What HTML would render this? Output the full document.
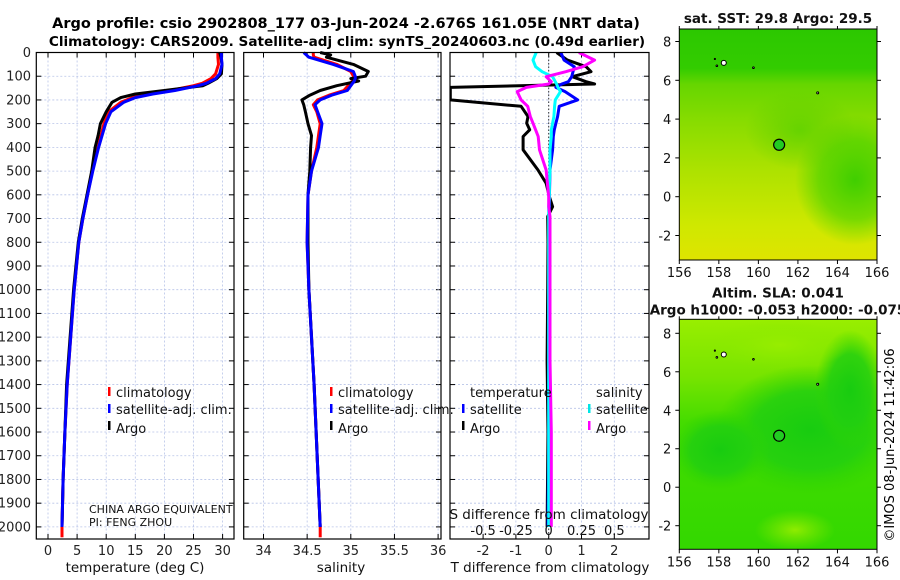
<!DOCTYPE html>
<html><head><meta charset="utf-8">
<style>
html,body{margin:0;padding:0;background:#fff;}
svg{display:block;font-family:"DejaVu Sans","Liberation Sans",sans-serif;}
</style></head>
<body>
<svg id="fig" width="900" height="580" viewBox="0 0 900 580" xmlns="http://www.w3.org/2000/svg">
<text x="346" y="28" font-size="14.5" font-weight="bold" text-anchor="middle">Argo profile: csio 2902808_177 03-Jun-2024 -2.676S 161.05E (NRT data)</text>
<text x="347" y="46" font-size="13.6" font-weight="bold" text-anchor="middle">Climatology: CARS2009. Satellite-adj clim: synTS_20240603.nc (0.49d earlier)</text>
<g id="panels"></g>
<g id="maps"></g>
<text transform="translate(894,445) rotate(-90)" font-size="13" text-anchor="middle">©IMOS 08-Jun-2024 11:42:06</text>
</svg>
<script>
// ---------- data ----------
const tDepth = [0,20,50,90,110,130,140,160,175,190,210,250,300,350,400,450,500,600,700,800,900,1000,1200,1400,1600,1800,2000];
const tArgo  = [29.5,29.7,29.9,29.8,29.0,27.5,26.6,20,15,12.5,11,10,9,8.6,8.1,7.8,7.5,6.7,5.9,5.2,4.8,4.4,3.8,3.2,2.9,2.6,2.4];
const tClim  = [29.2,29.2,29.3,28.8,28.0,26.5,25,21,17,14.5,12.5,10.4,9.6,9.1,8.6,8.1,7.6,6.8,6.0,5.3,4.9,4.5,3.9,3.3,2.9,2.6,2.4];
const tSat   = [29.8,29.8,29.9,29.5,28.8,27.2,25.8,21.8,18,15,13,10.8,9.9,9.3,8.7,8.2,7.7,6.8,6.0,5.3,4.9,4.5,3.9,3.3,2.9,2.6,2.4];
const sDepth = [0,10,20,50,80,100,110,120,140,160,180,200,220,250,300,350,400,500,600,800,1000,1400,2000];
const sArgo  = [34.65,34.77,34.72,35.03,35.2,35.17,35.0,35.09,34.84,34.65,34.53,34.44,34.46,34.48,34.51,34.55,34.54,34.53,34.51,34.51,34.52,34.58,34.65];
const sClim  = [34.57,34.57,34.58,34.84,35.0,35.03,35.03,35.02,34.97,34.92,34.75,34.62,34.57,34.61,34.65,34.63,34.61,34.55,34.51,34.5,34.52,34.58,34.65];
const sSat   = [34.46,34.49,34.52,34.8,35.03,35.05,35.05,35.04,35.0,34.96,34.78,34.65,34.59,34.62,34.67,34.65,34.63,34.55,34.51,34.5,34.52,34.58,34.65];
const dDepth = [0,32,60,81,102,123,133,147,165,200,227,270,298,326,354,410,495,551,608,650,692,800,1000,1300,1600,2000];
const dTArgo = [0.24,0.57,1.14,1.29,0.72,1.14,1.4,-3,-3,-3,-0.84,-0.63,-0.67,-0.58,-0.78,-0.78,-0.33,-0.08,0.02,0.12,-0.03,-0.02,-0.03,-0.05,-0.02,-0.05];
const dTSat  = [0.37,0.47,0.78,0.74,0.7,0.6,0.4,0.22,0.5,0.88,0.32,0.27,0.22,0.17,0.14,0.12,0.04,0.03,0.02,0.02,0.01,0.01,0.0,0.0,0.0,-0.02];
const dSSat  = [-0.095,-0.12,-0.1,-0.05,0.03,0.05,0.06,0.07,0.09,0.05,0.045,0.04,0.03,0.02,0.02,0.01,0.01,0.005,0.005,0.0,0.0,0.0,0.0,0.0,0.0,0.0];
const dSArgo = [0.23,0.35,0.26,0.13,-0.02,0.02,0.0,-0.17,-0.24,-0.21,-0.16,-0.14,-0.12,-0.1,-0.08,-0.07,-0.02,-0.01,0.0,0.0,0.01,0.01,0.01,0.01,0.02,0.02];
const depthTicks = [0,100,200,300,400,500,600,700,800,900,1000,1100,1200,1300,1400,1500,1600,1700,1800,1900,2000];
const tTicks = [0,5,10,15,20,25,30];
const sTicks = [34,34.5,35,35.5,36];
const dTTicks = [-2,-1,0,1,2];
const dSTicks = [-0.5,-0.25,0,0.25,0.5];

// ---------- helpers ----------
const NS="http://www.w3.org/2000/svg";
function mk(tag,attrs,parent){const e=document.createElementNS(NS,tag);for(const k in attrs)e.setAttribute(k,attrs[k]);parent.appendChild(e);return e;}
const top0=52.5, bot=539;
const yD = d => top0 + d*0.2372;
const panelsG=document.getElementById('panels');

function panel(name,x0,x1,xmin,xmax){
  const g=mk('g',{},panelsG);
  
  
  const xs=v=>x0+(v-xmin)/(xmax-xmin)*(x1-x0);
  return {g,xs,x0,x1};
}
function gridAndAxes(p,xt,xlabels,showY){
  const g=p.g;
  depthTicks.forEach(d=>{const y=yD(d);
    const l=mk('line',{x1:p.x0,x2:p.x1,y1:y,y2:y,stroke:'#b8c4e8','stroke-width':0.8,'stroke-dasharray':'2,2'},g);
    
    mk('line',{x1:p.x0,x2:p.x0+5,y1:y,y2:y,stroke:'#000'},g);
    mk('line',{x1:p.x1-5,x2:p.x1,y1:y,y2:y,stroke:'#000'},g);
    if(showY){const t=mk('text',{x:31,y:y+4.5,'font-size':13,'text-anchor':'end',fill:'#222'},g);t.textContent=d;
      }
  });
  xt.forEach((v,i)=>{const x=p.xs(v);
    const l=mk('line',{x1:x,x2:x,y1:top0,y2:bot,stroke:'#b8c4e8','stroke-width':0.8,'stroke-dasharray':'2,2'},g);
    
    mk('line',{x1:x,x2:x,y1:bot-5,y2:bot,stroke:'#000'},g);
    mk('line',{x1:x,x2:x,y1:top0,y2:top0+5,stroke:'#000'},g);
    const t=mk('text',{x:x,y:555,'font-size':13,'text-anchor':'middle',fill:'#222'},g);t.textContent=xlabels?xlabels[i]:v;
    
  });
}
function box(p){const r=mk('rect',{x:p.x0,y:top0,width:p.x1-p.x0,height:bot-top0,fill:'none',stroke:'#000','stroke-width':1.2},p.g);
  }
function line(p,xsF,vals,depths,color,w,name,clipId){
  const pts=vals.map((v,i)=>xsF(v).toFixed(1)+','+yD(depths[i]).toFixed(1)).join(' ');
  const pl=mk('polyline',{points:pts,fill:'none',stroke:color,'stroke-width':w,'stroke-linejoin':'round'},p.g);
  if(clipId)pl.setAttribute('clip-path','url(#'+clipId+')');
  
  return pl;
}
function txt(parent,x,y,s,size,name,anchor){const t=mk('text',{x:x,y:y,'font-size':size,'text-anchor':anchor||'start',fill:'#111'},parent);t.textContent=s;
  return t;}
function legendMark(parent,x,y,color,name){const r=mk('rect',{x:x,y:y-10,width:2.5,height:9,fill:color},parent);
  }

// ---------- panel 1: temperature ----------
const p1=panel('temperature-panel',36.3,234,-2,32);
p1.xs=v=>48+v*5.82;
gridAndAxes(p1,tTicks,null,true);
line(p1,p1.xs,[tClim[tClim.length-1],tClim[tClim.length-1]],[2000,2044],'#ff0000',3,'climatology-deep-segment');
line(p1,p1.xs,tClim,tDepth,'#ff0000',3,'temperature-climatology-line');
line(p1,p1.xs,tArgo,tDepth,'#000',3,'temperature-argo-line');
line(p1,p1.xs,tSat,tDepth,'#0000ff',3,'temperature-satellite-line');
box(p1);
txt(p1.g,135,572,'temperature (deg C)',13.5,'temperature-axis-title','middle');
legendMark(p1.g,108,397,'#ff0000','legend-climatology-marker');
txt(p1.g,116,397,'climatology',13,'legend-climatology');
legendMark(p1.g,108,414,'#0000ff','legend-satellite-marker');
txt(p1.g,116,414,'satellite-adj. clim.',13,'legend-satellite');
legendMark(p1.g,108,431,'#000','legend-argo-marker');
txt(p1.g,116,433,'Argo',13,'legend-argo');
txt(p1.g,89,513,'CHINA ARGO EQUIVALENT',11,'program-label');
txt(p1.g,89,526,'PI: FENG ZHOU',11,'pi-label');

// ---------- panel 2: salinity ----------
const p2=panel('salinity-panel',243.7,441,33.77,36.04);
p2.xs=v=>263.5+(v-34)*87.3;
gridAndAxes(p2,sTicks,null,false);
line(p2,p2.xs,[sClim[sClim.length-1],sClim[sClim.length-1]],[2000,2044],'#ff0000',3,'salinity-climatology-deep-segment');
line(p2,p2.xs,sClim,sDepth,'#ff0000',3,'salinity-climatology-line');
line(p2,p2.xs,sArgo,sDepth,'#000',3,'salinity-argo-line');
line(p2,p2.xs,sSat,sDepth,'#0000ff',3,'salinity-satellite-line');
box(p2);
txt(p2.g,341,572,'salinity',13.5,'salinity-axis-title','middle');
legendMark(p2.g,330,397,'#ff0000','legend-s-climatology-marker');
txt(p2.g,338,397,'climatology',13,'legend-s-climatology');
legendMark(p2.g,330,414,'#0000ff','legend-s-satellite-marker');
txt(p2.g,338,414,'satellite-adj. clim.',13,'legend-s-satellite');
legendMark(p2.g,330,431,'#000','legend-s-argo-marker');
txt(p2.g,338,433,'Argo',13,'legend-s-argo');

// ---------- panel 3: differences ----------
const p3=panel('difference-panel',450,649,-3,3);
const xT=v=>548.7+v*32.8;
const xS=v=>548.7+v*131.2;
p3.xs=xT;
gridAndAxes(p3,dTTicks,null,false);
const defs=mk('defs',{},document.getElementById('fig'));
const cp=mk('clipPath',{id:'clip3'},defs);
mk('rect',{x:450,y:top0,width:199,height:bot-top0},cp);
const zl=mk('line',{x1:548.7,x2:548.7,y1:top0,y2:bot,stroke:'#333','stroke-dasharray':'1.5,2','stroke-width':1},p3.g);

line(p3,xT,dTArgo,dDepth,'#000',3,'t-diff-argo-line','clip3');
line(p3,xT,dTSat,dDepth,'#0000ff',3,'t-diff-satellite-line','clip3');
line(p3,xS,dSSat,dDepth,'#00ffff',3,'s-diff-satellite-line','clip3');
line(p3,xS,dSArgo,dDepth,'#ff00ff',3,'s-diff-argo-line','clip3');
box(p3);
txt(p3.g,550,572,'T difference from climatology',13.5,'t-diff-axis-title','middle');
txt(p3.g,549,519,'S difference from climatology',13.5,'s-diff-axis-title','middle');
dSTicks.forEach(v=>{txt(p3.g,xS(v),535,String(v),13,'s-diff-tick-label','middle');});
txt(p3.g,470,397,'temperature',13,'legend-temperature-header');
legendMark(p3.g,462,414,'#0000ff','legend-t-satellite-marker');
txt(p3.g,470,414,'satellite',13,'legend-t-satellite');
legendMark(p3.g,462,431,'#000','legend-t-argo-marker');
txt(p3.g,470,433,'Argo',13,'legend-t-argo');
txt(p3.g,596,397,'salinity',13,'legend-salinity-header');
legendMark(p3.g,588,414,'#00e5e5','legend-s-satellite-marker');
txt(p3.g,596,414,'satellite',13,'legend-s-sat');
legendMark(p3.g,588,431,'#ff00ff','legend-s-argo-marker');
txt(p3.g,596,433,'Argo',13,'legend-s-argo-diff');

// ---------- maps ----------
const lonTicks=[156,158,160,162,164,166];
const latTicks=[-2,0,2,4,6,8];
const mapsG=document.getElementById('maps');
function map(name,y0,y1,lat8y,latm2y,layers,title1,title2){
  const g=mk('g',{},mapsG);
  
  const x0=679.3,x1=877;
  const lx=v=>x0+(v-156)*(x1-x0)/10;
  const ly=v=>lat8y+(8-v)*(latm2y-lat8y)/10;
  const cid=name+'-clip';
  const c=mk('clipPath',{id:cid},defs);mk('rect',{x:x0,y:y0,width:x1-x0,height:y1-y0},c);
  const lg=mk('g',{'clip-path':'url(#'+cid+')'},g);
  layers(lg,x0,y0,x1,y1);
  [[158.25,6.9,2.5],[157.9,6.75,0.8],[159.75,6.65,0.8],[163,5.35,1],[157.8,7.1,0.6]].forEach(p=>{
    const d=mk('circle',{cx:lx(p[0]),cy:ly(p[1]),r:p[2],fill:'#fff',stroke:'#000','stroke-width':1},lg);
    });
  const m=mk('circle',{cx:lx(161.05),cy:ly(2.676),r:5.5,fill:'#22cc22',stroke:'#000','stroke-width':1.2},g);
  
  const r=mk('rect',{x:x0,y:y0,width:x1-x0,height:y1-y0,fill:'none',stroke:'#000','stroke-width':1},g);
  
  lonTicks.forEach(v=>{const x=lx(v);mk('line',{x1:x,x2:x,y1:y1,y2:y1+4,stroke:'#000'},g);mk('line',{x1:x,x2:x,y1:y0,y2:y0-3,stroke:'#000'},g);
    txt(g,x,y1+17,String(v),13,'lon-tick-label','middle');});
  latTicks.forEach(v=>{const y=ly(v);mk('line',{x1:x0-4,x2:x0,y1:y,y2:y,stroke:'#000'},g);mk('line',{x1:x1,x2:x1+4,y1:y,y2:y,stroke:'#000'},g);
    txt(g,x0-8,y+5,String(v),13,'lat-tick-label','end');});
  const t1=txt(g,778,y0-(title2?22:6),title1,13.5,'map-title','middle');t1.setAttribute('font-weight','bold');
  if(title2){const t2=txt(g,778,y0-5,title2,13.5,'map-subtitle','middle');t2.setAttribute('font-weight','bold');}
}
function grad(id,stops,x1,y1,x2,y2){const gr=mk('linearGradient',{id:id,x1:x1,y1:y1,x2:x2,y2:y2},defs);
  stops.forEach(s=>mk('stop',{offset:s[0],'stop-color':s[1],'stop-opacity':s[2]===undefined?1:s[2]},gr));}
function rgrad(id,stops){const gr=mk('radialGradient',{id:id},defs);
  stops.forEach(s=>mk('stop',{offset:s[0],'stop-color':s[1],'stop-opacity':s[2]===undefined?1:s[2]},gr));}
grad('sstV',[[0,'#2cc800'],[0.17,'#33cc00'],[0.24,'#66d600'],[0.4,'#88dc00'],[0.62,'#aee200'],[0.85,'#cfe800'],[1,'#dfe400']],0,0,0,1);
rgrad('sstR',[[0,'#33cc00',0.9],[0.6,'#3fd000',0.6],[1,'#44d000',0]]);
rgrad('sstC',[[0,'#55d000',0.7],[1,'#55cc00',0]]);
map('sst-map',29,260,41.5,235.5,(g,x0,y0,x1,y1)=>{
  mk('rect',{x:x0,y:y0,width:x1-x0,height:y1-y0,fill:'url(#sstV)'},g);
  mk('ellipse',{cx:855,cy:180,rx:60,ry:65,fill:'url(#sstR)'},g);
  mk('ellipse',{cx:800,cy:130,rx:55,ry:40,fill:'url(#sstC)'},g);
},'sat. SST: 29.8 Argo: 29.5');
grad('slaV',[[0,'#99ee00'],[0.25,'#77e400'],[0.45,'#44dc00'],[1,'#33d800']],0,0,0,1);
rgrad('slaB',[[0,'#18cc10'],[0.6,'#22cf10',0.85],[1,'#30d400',0]]);
rgrad('slaL',[[0,'#99ee00',0.9],[1,'#88e800',0]]);
map('sla-map',319.3,549.3,333.3,525.7,(g,x0,y0,x1,y1)=>{
  mk('rect',{x:x0,y:y0,width:x1-x0,height:y1-y0,fill:'url(#slaV)'},g);
  mk('ellipse',{cx:810,cy:430,rx:95,ry:65,fill:'url(#slaB)'},g);
  mk('ellipse',{cx:720,cy:450,rx:50,ry:40,fill:'url(#slaB)'},g);
  mk('ellipse',{cx:850,cy:390,rx:35,ry:60,fill:'url(#slaB)'},g);
  mk('ellipse',{cx:780,cy:345,rx:70,ry:25,fill:'url(#slaL)'},g);
  mk('ellipse',{cx:795,cy:530,rx:40,ry:20,fill:'url(#slaL)'},g);
},'Altim. SLA: 0.041','Argo h1000: -0.053 h2000: -0.075');
</script>
</body></html>
